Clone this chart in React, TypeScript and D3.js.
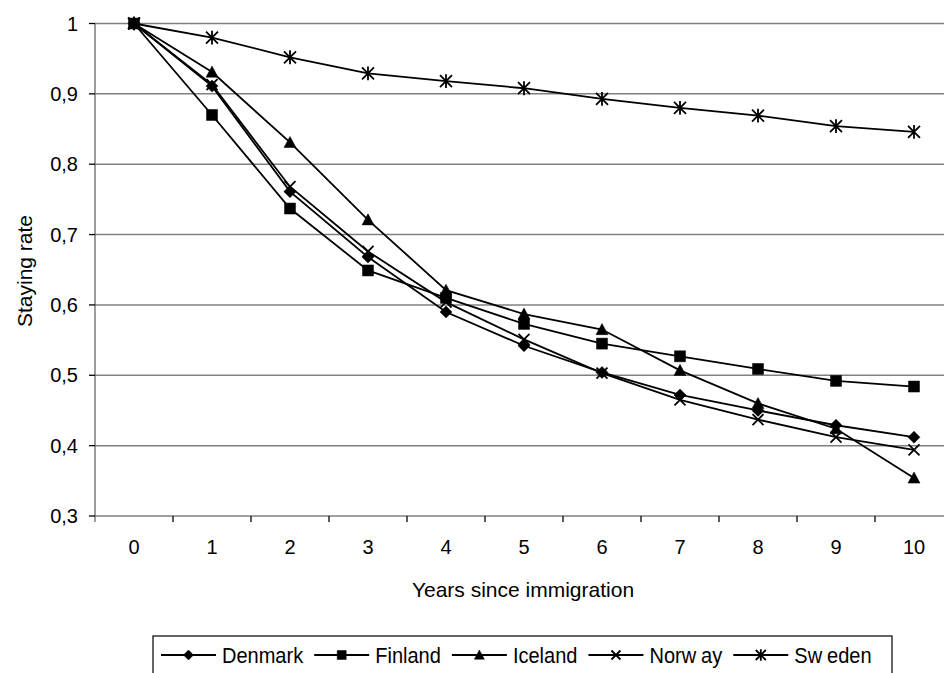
import React from "react";
import * as d3 from "d3";

// Years since immigration (category axis)
const years = ["0", "1", "2", "3", "4", "5", "6", "7", "8", "9", "10"];

// Staying rate per country
const denmark = [1, 0.911, 0.761, 0.668, 0.59, 0.542, 0.504, 0.472, 0.45, 0.429, 0.412];
const finland = [1, 0.87, 0.737, 0.649, 0.61, 0.573, 0.545, 0.527, 0.509, 0.492, 0.484];
const iceland = [1, 0.931, 0.831, 0.721, 0.621, 0.587, 0.565, 0.507, 0.46, 0.424, 0.354];
const norway = [1, 0.913, 0.768, 0.676, 0.604, 0.551, 0.503, 0.465, 0.437, 0.412, 0.394];
const sweden = [1, 0.98, 0.952, 0.929, 0.918, 0.908, 0.893, 0.88, 0.869, 0.854, 0.846];

const yTicks = [0.3, 0.4, 0.5, 0.6, 0.7, 0.8, 0.9, 1];

type Marker = "diamond" | "square" | "triangle" | "cross" | "star";

const series: { name: string; values: number[]; marker: Marker }[] = [
  { name: "Denmark", values: denmark, marker: "diamond" },
  { name: "Finland", values: finland, marker: "square" },
  { name: "Iceland", values: iceland, marker: "triangle" },
  { name: "Norway", values: norway, marker: "cross" },
  { name: "Sweden", values: sweden, marker: "star" },
];

const W = 944;
const H = 673;
const plot = { left: 95, right: 953, top: 23.5, bottom: 516 };
const FONT = "'Liberation Sans', Arial, sans-serif";

function markerPath(kind: Marker, s: number): string {
  const h = s / 2;
  switch (kind) {
    case "diamond":
      return `M0,${-h}L${h},0L0,${h}L${-h},0Z`;
    case "square":
      return `M${-h},${-h}H${h}V${h}H${-h}Z`;
    case "triangle":
      return `M0,${-h}L${h},${h * 0.85}L${-h},${h * 0.85}Z`;
    case "cross":
      return `M${-h},${-h}L${h},${h}M${-h},${h}L${h},${-h}`;
    case "star":
      return `M${-h},${-h}L${h},${h}M${-h},${h}L${h},${-h}M0,${-h * 1.15}V${h * 1.15}`;
  }
}

function MarkerShape({ kind, x, y, s }: { kind: Marker; x: number; y: number; s: number }) {
  const filled = kind === "diamond" || kind === "square" || kind === "triangle";
  return (
    <path
      d={markerPath(kind, s)}
      transform={`translate(${x},${y})`}
      fill={filled ? "#000" : "none"}
      stroke="#000"
      strokeWidth={filled ? 0.5 : 1.8}
    />
  );
}

const markerSize: Record<Marker, number> = {
  diamond: 12,
  square: 11,
  triangle: 12,
  cross: 11,
  star: 12,
};

function textWidth(t: string, size: number): number {
  const c = document.createElement("canvas").getContext("2d");
  if (!c) return t.length * size * 0.55;
  c.font = `${size}px 'Liberation Sans'`;
  return c.measureText(t).width;
}

export default function App() {
  const x = d3
    .scaleBand<string>()
    .domain(years)
    .range([plot.left, plot.right])
    .paddingInner(0)
    .paddingOuter(0);
  const y = d3.scaleLinear().domain([0.3, 1]).range([plot.bottom, plot.top]);
  const cx = (i: number) => (x(years[i]) as number) + x.bandwidth() / 2;

  const line = d3
    .line<number>()
    .x((_, i) => cx(i))
    .y((v) => y(v));

  // legend layout: slightly condensed legend lettering
  const legendFont = 22;
  const squeeze = 0.91;
  const lineLen = 55;
  let lx = 161;
  const legendItems = series.map((s) => {
    const gap = s.name === "Norway" || s.name === "Sweden" ? 5 : 0;
    const w = textWidth(s.name, legendFont) * squeeze + gap;
    const item = { ...s, x: lx, textX: lx + lineLen + 6 };
    lx += lineLen + 6 + w + 11;
    return item;
  });
  const legendY = 655;

  const splitLabel = (name: string) => {
    if (name === "Norway") return ["Norw", "ay"];
    if (name === "Sweden") return ["Sw", "eden"];
    return [name];
  };

  return (
    <div style={{ position: "absolute", left: 0, top: 0, width: W, height: H, background: "#fff" }}>
      <svg width={W} height={H} style={{ display: "block" }} fontFamily={FONT}>
        <rect width={W} height={H} fill="#fff" />
        {/* horizontal gridlines */}
        {yTicks.map((t) => (
          <line
            key={t}
            x1={plot.left}
            x2={plot.right}
            y1={y(t)}
            y2={y(t)}
            stroke="#808080"
            strokeWidth={1.5}
          />
        ))}
        {/* y axis */}
        <line x1={plot.left} x2={plot.left} y1={plot.top} y2={plot.bottom + 6} stroke="#666" strokeWidth={1.3} />
        {yTicks.map((t) => (
          <g key={`yt${t}`}>
            <line x1={plot.left - 6} x2={plot.left} y1={y(t)} y2={y(t)} stroke="#000" strokeWidth={1.3} />
            <text
              x={plot.left - 17}
              y={y(t)}
              dy="0.36em"
              textAnchor="end"
              fontSize={20}
              fill="#000"
            >
              {d3.format(".1f")(t).replace(".", ",").replace(/^1,0$/, "1")}
            </text>
          </g>
        ))}
        {/* x axis ticks between categories */}
        {years.map((c, i) =>
          i === 0 ? null : (
            <line
              key={`xt${c}`}
              x1={x(c)}
              x2={x(c)}
              y1={plot.bottom}
              y2={plot.bottom + 6}
              stroke="#000"
              strokeWidth={1.3}
            />
          )
        )}
        {years.map((c, i) => (
          <text key={`xl${c}`} x={cx(i)} y={554} textAnchor="middle" fontSize={20} fill="#000">
            {c}
          </text>
        ))}
        {/* series */}
        <g>
          {series.map((s) => (
            <path key={s.name} d={line(s.values) || ""} fill="none" stroke="#000" strokeWidth={1.8} />
          ))}
          {series.map((s) =>
            s.values.map((v, i) => (
              <MarkerShape key={`${s.name}${i}`} kind={s.marker} x={cx(i)} y={y(v)} s={markerSize[s.marker]} />
            ))
          )}
        </g>
        {/* axis titles */}
        <text x={(plot.left + plot.right) / 2 - 1} y={597} textAnchor="middle" fontSize={21} fill="#000">
          Years since immigration
        </text>
        <text
          transform={`translate(32,271) rotate(-90)`}
          textAnchor="middle"
          fontSize={21}
          fill="#000"
        >
          Staying rate
        </text>
        {/* legend */}
        <rect x={153} y={636} width={739} height={45} fill="#fff" stroke="#000" strokeWidth={1.2} />
        {legendItems.map((it) => {
          const parts = splitLabel(it.name);
          return (
            <g key={it.name}>
              <line x1={it.x} x2={it.x + lineLen} y1={legendY} y2={legendY} stroke="#000" strokeWidth={1.8} />
              <MarkerShape kind={it.marker} x={it.x + lineLen / 2} y={legendY} s={markerSize[it.marker] - 2} />
              <text
                transform={`translate(${it.textX},${legendY}) scale(${squeeze},1)`}
                dy="0.36em"
                fontSize={legendFont}
                fill="#000"
              >
                {parts[0]}
                {parts.length > 1 ? <tspan dx={5 / squeeze}>{parts[1]}</tspan> : null}
              </text>
            </g>
          );
        })}
      </svg>
    </div>
  );
}
